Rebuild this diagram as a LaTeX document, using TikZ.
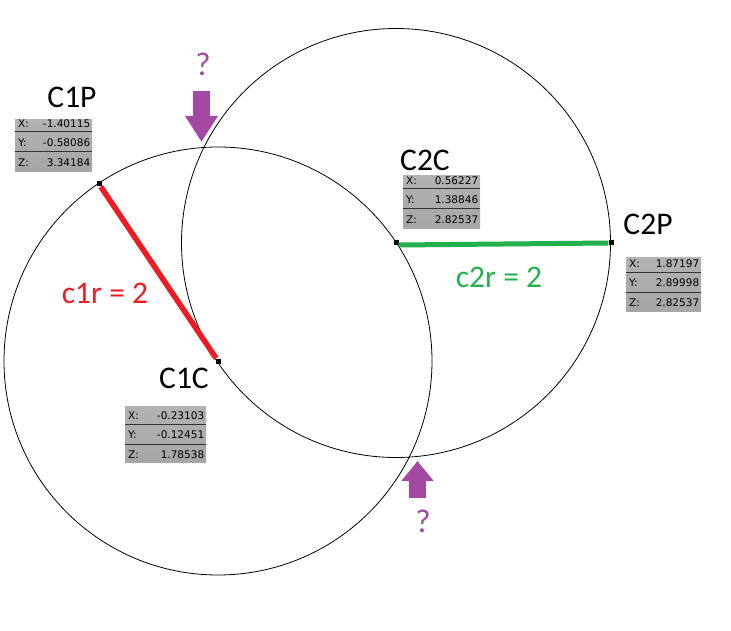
\documentclass[tikz,border=0pt]{standalone}
\usepackage{fontspec}
\setmainfont{Carlito}
\newfontfamily\readout{DejaVu Sans}
\usetikzlibrary{arrows.meta}
\definecolor{paintred}{HTML}{ED1C24}
\definecolor{paintgreen}{HTML}{22B14C}
\definecolor{paintpurple}{HTML}{A349A4}
\tikzset{
  point/.style={draw=none,fill=black,inner sep=0pt,minimum size=5pt,rectangle},
  circ/.style={draw=black,line width=0.8pt},
  ptlabel/.style={inner sep=0pt,font=\fontsize{31.5}{31.5}\selectfont},
  query/.style={inner sep=0pt,text=paintpurple,font=\fontsize{33}{33}\selectfont},
  bigarrow/.style={draw=paintpurple,line width=17.5pt,-{Triangle[length=26pt,width=31pt]}},
  readbox/.style={draw=none,inner sep=0pt,anchor=north west,top color=black!30,bottom color=black!35},
  readkey/.style={inner sep=0pt,anchor=west,font=\readout\fontsize{10.5}{10.5}\selectfont},
  readval/.style={inner sep=0pt,anchor=east,font=\readout\fontsize{10.5}{10.5}\selectfont},
  readrule/.style={draw=black!80,line width=1pt}
}
% name, left, top, width, height, row offset, three values
\newcommand{\coordbox}[9]{%
  \path (#2, #3) node[readbox, minimum width=#4pt, minimum height=#5pt] (#1) {};
  \draw[readrule] ([yshift=-(14+#6)*1pt]#1.north west) coordinate (#1a) -- ([yshift=-(14+#6)*1pt]#1.north east);
  \draw[readrule] ([yshift=-(34+#6)*1pt]#1.north west) coordinate (#1b) -- ([yshift=-(34+#6)*1pt]#1.north east);
  \path ([xshift=3pt,yshift=-(6+#6)*1pt]#1.north west) node[readkey] (#1kx) {X:}
        ([xshift=3pt,yshift=-(25+#6)*1pt]#1.north west) node[readkey] (#1ky) {Y:}
        ([xshift=3pt,yshift=-(45+#6)*1pt]#1.north west) node[readkey] (#1kz) {Z:}
        ([xshift=-2pt,yshift=-(6+#6)*1pt]#1.north east) node[readval] (#1vx) {#7}
        ([xshift=-2pt,yshift=-(25+#6)*1pt]#1.north east) node[readval] (#1vy) {#8}
        ([xshift=-2pt,yshift=-(45+#6)*1pt]#1.north east) node[readval] (#1vz) {#9};
}

\begin{document}
\begin{tikzpicture}[x=1pt, y=-1pt]
  \useasboundingbox (0, 0) rectangle (731, 631);

  \path (99, 184) node[point] (c1p) {} (218, 361) node[point] (c1c) {}
        (396, 243) node[point] (c2c) {} (611, 243) node[point] (c2p) {};

  \draw[circ] (c1c) circle (214pt);
  \draw[circ] (c2c) circle (214.5pt);

  \draw[paintred, line width=5.5pt] (c1p) -- (c1c);
  \draw[paintgreen, line width=5pt] ([yshift=-2pt]c2c.east) -- (c2p.west);

  \path (72, 97) node[ptlabel] (c1pname) {C1P} (425, 160) node[ptlabel] (c2cname) {C2C}
        (648, 224) node[ptlabel] (c2pname) {C2P} (184, 378) node[ptlabel] (c1cname) {C1C};
  \path (105, 293) node[ptlabel, text=paintred] (c1r) {c1r = 2}
        (499, 277) node[ptlabel, text=paintgreen] (c2r) {c2r = 2};

  \coordbox{c1pbox}{15}{119}{77}{52}{-1}{-1.40115}{-0.58086}{3.34184}
  \coordbox{c2cbox}{403}{175}{77}{53}{0}{0.56227}{1.38846}{2.82537}
  \coordbox{c2pbox}{626}{257}{75}{54}{1}{1.87197}{2.89998}{2.82537}
  \coordbox{c1cbox}{125}{406}{81}{56}{4}{-0.23103}{-0.12451}{1.78538}

  \coordinate (upa) at (201.5, 91);
  \coordinate (upb) at (201.5, 142);
  \coordinate (lowa) at (417.5, 498);
  \coordinate (lowb) at (417.5, 461);
  \draw[bigarrow] (upa) -- (upb);
  \draw[bigarrow, -{Triangle[length=20pt,width=31pt]}] (lowa) -- (lowb);
  \path (203, 64) node[query] (qtop) {?} (423, 521) node[query] (qlow) {?};
\end{tikzpicture}
\end{document}
